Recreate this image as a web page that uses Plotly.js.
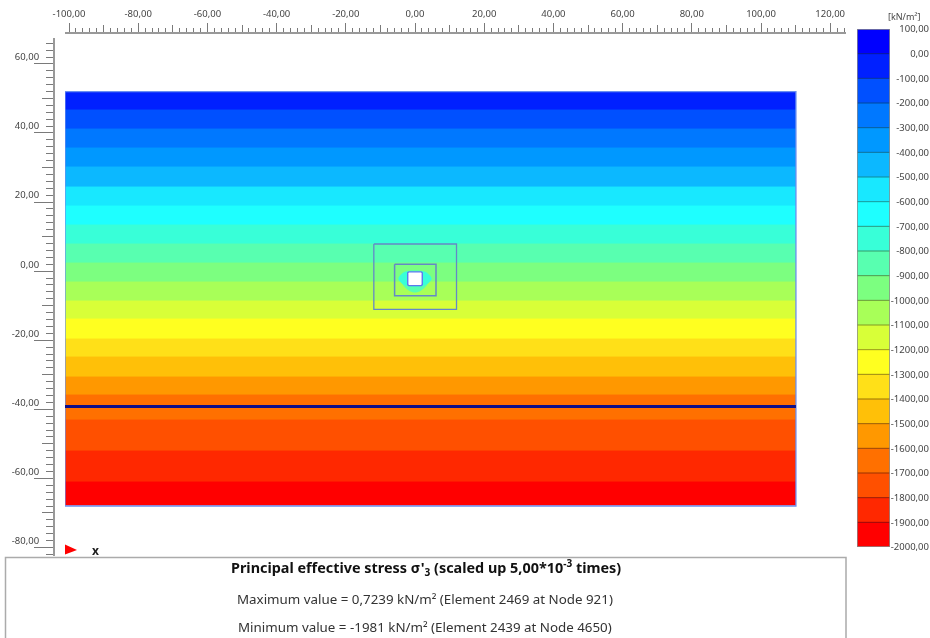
<!DOCTYPE html>
<html><head><meta charset="utf-8">
<script src="https://cdn.plot.ly/plotly-3.0.1.min.js"></script>
<style>html,body{margin:0;padding:0;background:#fff}#c{width:930px;height:638px;filter:blur(0.35px)}</style>
</head><body><div id="c"></div>
<script>
// ---- data ----
const legendLevels = [100,0,-100,-200,-300,-400,-500,-600,-700,-800,-900,-1000,-1100,-1200,-1300,-1400,-1500,-1600,-1700,-1800,-1900,-2000];
const legendColors = ['#0000ff','#0020ff','#0050ff','#0078ff','#0098ff','#0cb8ff','#18e8ff','#1effff','#38ffd8','#58ffb0','#7cff80','#a8ff58','#d8ff38','#ffff20','#ffe018','#ffc008','#ff9800','#ff7000','#ff5000','#ff2800','#ff0000'];
// elevation of the contour band edges in the section, top to bottom (m)
const bandEdges = [50,44.66,39.15,33.65,28.15,22.36,16.86,11.36,5.86,0.36,-5.14,-10.64,-15.85,-21.64,-26.86,-32.65,-37.86,-45.1,-54.07,-63.05,-70];
const meshX = [-101.16,110.1];
const meshY = [50,-70];
const interfaceY = -41.2;
const outerBoxX = [-11.9,12,12,-11.9,-11.9], outerBoxY = [5.86,5.86,-13.05,-13.05,5.86];
const innerBoxX = [-5.9,6.07,6.07,-5.9,-5.9], innerBoxY = [0,0,-9.1,-9.1,0];
const tunnelX = [-1.8,1.8,2.1,2.1,1.8,-1.8,-2.1,-2.1,-1.8], tunnelY = [-2.2,-2.2,-2.5,-5.9,-6.2,-6.2,-5.9,-2.5,-2.2];
const haloOuterX = [-3.4,0,3.4,4,1.7,0,-1.7,-4,-3.4], haloOuterY = [-2.4,-1.9,-2.4,-5,-7.7,-8.2,-7.7,-5,-2.4];
const haloInnerX = [-4.8,-3.6,-2,2,3.6,4.8,3.4,1.5,-1.5,-3.4,-4.8], haloInnerY = [-4.2,-2.6,-2,-2,-2.6,-4.2,-5.8,-6.4,-6.4,-5.8,-4.2];
const xLabelVals = [-100,-80,-60,-40,-20,0,20,40,60,80,100,120];
const xLabelText = ['-100,00','-80,00','-60,00','-40,00','-20,00','0,00','20,00','40,00','60,00','80,00','100,00','120,00'];
const xMidVals = [-90,-70,-50,-30,-10,10,30,50,70,90,110];
const yLabelVals = [60,40,20,0,-20,-40,-60,-80];
const yLabelText = ['60,00','40,00','20,00','0,00','-20,00','-40,00','-60,00','-80,00'];
const yLongVals = [58,38,18,-2,-22,-42,-62,-82];
const yMidVals = [48,28,8,-12,-32,-52,-72];
const legendText = ['100,00','0,00','-100,00','-200,00','-300,00','-400,00','-500,00','-600,00','-700,00','-800,00','-900,00','-1000,00','-1100,00','-1200,00','-1300,00','-1400,00','-1500,00','-1600,00','-1700,00','-1800,00','-1900,00','-2000,00'];
const titleText = "Principal effective stress σ'<sub>3</sub> (scaled up 5,00*10<sup>-3</sup> times)";
const maxText = 'Maximum value = 0,7239 kN/m² (Element 2469 at Node 921)';
const minText = 'Minimum value = -1981 kN/m² (Element 2439 at Node 4650)';
const unitText = '[kN/m²]';

// ---- page geometry ----
const W=930,H=638, FONT='"Noto Sans", "Open Sans", sans-serif';
const TICK='#7a7a7a', LBL='#444444';
const px=p=>p/W, py=p=>1-p/H;
const xRange=[(65-415)/3.46,(846-415)/3.46];
const yAt=p=>60-(p-57)/3.454;
const yRange=[yAt(556),yAt(38)];
const xDom=[px(65),px(846)], yDom=[py(556),py(38)];
const axFont={family:FONT,size:9.5,color:LBL};

// ---- field bands ----
const nBands=bandEdges.length-1;
const fieldZ=[];
const edgesUp=bandEdges.slice().reverse();
for(let i=0;i<nBands;i++){
  const l=legendLevels[legendLevels.length-1-i], h=legendLevels[legendLevels.length-2-i];
  fieldZ.push([(l+h)/2]);
}
const lo=-2000,hi=100,cs=[];
legendColors.forEach((c,i)=>{
  const a=(legendLevels[i+1]-lo)/(hi-lo),b=(legendLevels[i]-lo)/(hi-lo);
  cs.unshift([b,c]);cs.unshift([a,c]);
});
const line=(x,y,color,width,extra)=>Object.assign({type:'scatter',mode:'lines',x,y,line:{color,width},cliponaxis:false,hoverinfo:'skip',showlegend:false},extra||{});
const fillPoly=(x,y,color)=>({type:'scatter',mode:'lines',x,y,fill:'toself',fillcolor:color,line:{color:color,width:0,shape:'spline'},hoverinfo:'skip',showlegend:false});

const traces=[
 {type:'heatmap',x:meshX,y:edgesUp,z:fieldZ,zmin:lo,zmax:hi,colorscale:cs,showscale:false,hoverinfo:'skip'},
 fillPoly(haloOuterX,haloOuterY,'#58ffb0'),
 fillPoly(haloInnerX,haloInnerY,'#38ffd8'),
 line([meshX[0],meshX[1],meshX[1],meshX[0],meshX[0]],[meshY[0],meshY[0],meshY[1],meshY[1],meshY[0]],'#6b8ff0',1.3),
 line(meshX,[interfaceY,interfaceY],'#0e0e88',3),
 line(outerBoxX,outerBoxY,'#6488c8',1.3),
 line(innerBoxX,innerBoxY,'#6488c8',1.5),
 line(tunnelX,tunnelY,'#5c78ec',1.4,{fill:'toself',fillcolor:'#ffffff'}),
 // axes that only carry the longer tick tiers
 {type:'scatter',mode:'lines',x:[0],y:[0],xaxis:'x2',yaxis:'y2',hoverinfo:'skip',showlegend:false},
 {type:'scatter',mode:'lines',x:[0],y:[0],xaxis:'x2',yaxis:'y4',hoverinfo:'skip',showlegend:false}
];
legendColors.forEach((c,i)=>{
  traces.push({type:'bar',x:[0.5],y:[legendLevels[i]-legendLevels[i+1]],base:[legendLevels[i+1]],width:[1],xaxis:'x3',yaxis:'y3',marker:{color:c,line:{width:0}},hoverinfo:'skip',showlegend:false});
});

function darken(hex,f){
  const n=parseInt(hex.slice(1),16);
  return 'rgb('+[(n>>16)&255,(n>>8)&255,n&255].map(v=>Math.round(v*f)).join(',')+')';
}
const shapes=[];
legendLevels.slice(1,-1).forEach((v,i)=>{
  shapes.push({type:'line',xref:'x3',yref:'y3',x0:0,x1:1,y0:v,y1:v,line:{color:darken(legendColors[i+1],0.6),width:1}});
});
shapes.push({type:'rect',xref:'x3',yref:'y3',x0:0,x1:1,y0:lo,y1:hi,line:{color:'#8a8a8a',width:1.5}});
shapes.push({type:'rect',xref:'paper',yref:'paper',x0:px(5.5),x1:px(846),y0:py(660),y1:py(557.5),fillcolor:'#ffffff',line:{color:'#ababab',width:1.5},layer:'above'});
shapes.push({type:'path',xref:'paper',yref:'paper',path:`M ${px(65)} ${py(544.5)} L ${px(77)} ${py(550)} L ${px(65)} ${py(554.5)} Z`,fillcolor:'#ff0000',line:{width:0}});

const note=(x,y,text,size,color,extra)=>Object.assign({xref:'paper',yref:'paper',x:px(x),y:py(y),text,showarrow:false,xanchor:'center',yanchor:'middle',font:{family:FONT,size,color}},extra||{});

const baseX={range:xRange,domain:xDom,anchor:'free',position:py(32),side:'top',showgrid:false,zeroline:false,fixedrange:true};
const baseY={range:yRange,domain:yDom,anchor:'free',position:px(53),side:'left',showgrid:false,zeroline:false,fixedrange:true};

const layout={
 width:W,height:H,margin:{l:0,r:0,t:0,b:0},paper_bgcolor:'#fff',plot_bgcolor:'rgba(0,0,0,0)',showlegend:false,barmode:'overlay',
 xaxis:Object.assign({},baseX,{tickmode:'array',tickvals:xLabelVals,ticktext:xLabelText,ticks:'outside',ticklen:9,tickwidth:1,tickcolor:TICK,
   showline:true,linecolor:'#999',linewidth:1.5,tickfont:axFont,ticklabelstandoff:2,tickangle:0,
   minor:{tick0:0,dtick:2,ticks:'outside',ticklen:4,tickwidth:1,tickcolor:TICK}}),
 xaxis2:Object.assign({},baseX,{overlaying:'x',tickmode:'array',tickvals:xMidVals,showticklabels:false,ticks:'outside',ticklen:7,tickwidth:1,tickcolor:TICK,showline:false}),
 yaxis:Object.assign({},baseY,{tickmode:'array',tickvals:yLabelVals,ticktext:yLabelText,ticks:'outside',ticklen:7,tickwidth:1,tickcolor:TICK,
   showline:true,linecolor:'#999',linewidth:1.5,tickfont:axFont,ticklabelstandoff:5,
   minor:{tick0:0,dtick:2,ticks:'outside',ticklen:7,tickwidth:1,tickcolor:TICK}}),
 yaxis2:Object.assign({},baseY,{overlaying:'y',tickmode:'array',tickvals:yLongVals,showticklabels:false,ticks:'outside',ticklen:19,tickwidth:1,tickcolor:TICK,showline:false}),
 yaxis4:Object.assign({},baseY,{overlaying:'y',tickmode:'array',tickvals:yMidVals,showticklabels:false,ticks:'outside',ticklen:11,tickwidth:1,tickcolor:TICK,showline:false}),
 xaxis3:{domain:[px(857),px(890)],range:[0,1],anchor:'y3',visible:false,fixedrange:true},
 yaxis3:{domain:[py(547),py(29)],range:[lo,hi],anchor:'free',position:px(929),side:'left',showgrid:false,zeroline:false,showline:false,ticks:'',tickmode:'array',tickvals:legendLevels,ticktext:legendText,tickfont:axFont,fixedrange:true},
 shapes,
 annotations:[
  note(426,567,titleText,14.4,'#111',{font:{family:FONT,size:14.4,color:'#111',weight:700}}),
  note(425,599,maxText,13.35,'#333'),
  note(425,627,minText,13.35,'#333'),
  note(904,17,unitText,9,'#444'),
  note(95,550,'x',12,'#222',{font:{family:FONT,size:12,color:'#222',weight:700}})
 ]
};
Plotly.newPlot('c',traces,layout,{displayModeBar:false,staticPlot:true});
</script></body></html>
